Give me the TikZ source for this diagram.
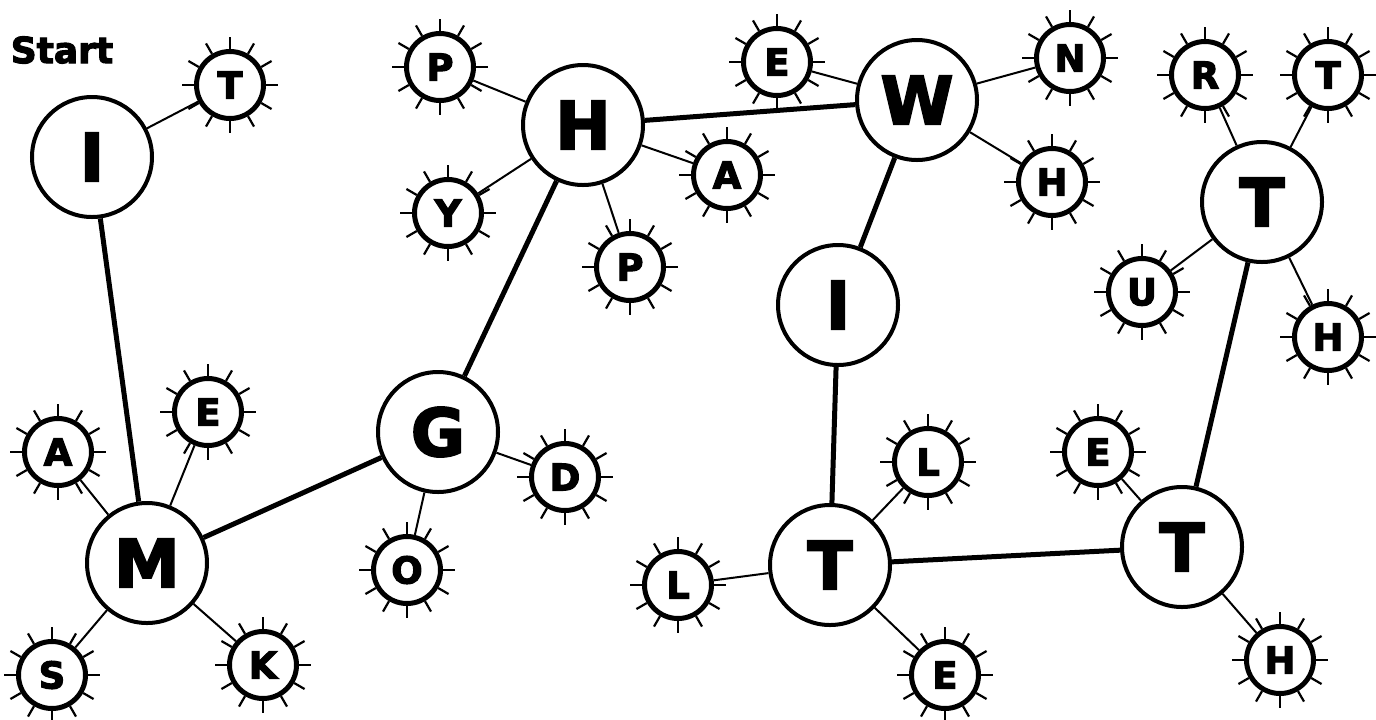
\documentclass[tikz,border=0pt]{standalone}
\usepackage{fontspec}
\setmainfont{DejaVu Sans}
\newfontfamily\heavyfont{DejaVu Sans Bold}[FakeBold=3]
\begin{document}
\begin{tikzpicture}
      [
        x = 0.5pt, y = -0.5pt,
        bignode/.style = {circle, draw, fill = white, line width = 2pt, minimum size = 60pt, inner sep = 0pt, font = \fontsize{33}{33}\heavyfont},
        spikenode/.style = {circle, draw, fill = white, line width = 2.5pt, minimum size = 33.5pt, inner sep = 0pt, font = \fontsize{18.5}{18.5}\heavyfont},
        thickedge/.style = {line width = 2.5pt},
        thinedge/.style = {line width = 1pt},
      ]
      \useasboundingbox (0,0) rectangle (1376,719);

      \node[font = \fontsize{18}{18}\heavyfont] (start) at (62,50) {Start};

      % big letters
      \node[bignode] (i1) at (92,157) {I};
      \node[bignode] (m) at (147,563) {M};
      \node[bignode] (g) at (438,432) {G};
      \node[bignode] (h) at (583,125) {H};
      \node[bignode] (w) at (917,100) {W};
      \node[bignode] (i2) at (838,305) {I};
      \node[bignode] (t1) at (830,565) {T};
      \node[bignode] (t2) at (1182,547) {T};
      \node[bignode] (t3) at (1262,202) {T};

      % small letters
      \node[spikenode] (s1) at (230,85) {T};
      \node[spikenode] (s2) at (58,452) {A};
      \node[spikenode] (s3) at (208,412) {E};
      \node[spikenode] (s4) at (52,675) {S};
      \node[spikenode] (s5) at (263,665) {K};
      \node[spikenode] (s6) at (565,477) {D};
      \node[spikenode] (s7) at (407,570) {O};
      \node[spikenode] (s8) at (440,67) {P};
      \node[spikenode] (s9) at (448,213) {Y};
      \node[spikenode] (s10) at (630,267) {P};
      \node[spikenode] (s11) at (727,175) {A};
      \node[spikenode] (s12) at (777,62) {E};
      \node[spikenode] (s13) at (1070,58) {N};
      \node[spikenode] (s14) at (1052,182) {H};
      \node[spikenode] (s15) at (928,462) {L};
      \node[spikenode] (s16) at (678,585) {L};
      \node[spikenode] (s17) at (945,675) {E};
      \node[spikenode] (s18) at (1098,452) {E};
      \node[spikenode] (s19) at (1280,660) {H};
      \node[spikenode] (s20) at (1205,75) {R};
      \node[spikenode] (s21) at (1328,75) {T};
      \node[spikenode] (s22) at (1142,292) {U};
      \node[spikenode] (s23) at (1328,337) {H};

      \foreach \n in {s1,s2,s3,s4,s5,s6,s7,s8,s9,s10,s11,s12,s13,s14,s15,s16,s17,s18,s19,s20,s21,s22,s23}
        \foreach \a in {0,30,...,330}
          \draw[line width = 1.1pt] (\n.\a) -- ++(\a:6pt);

      \draw[thickedge] (i1) -- (m);
      \draw[thickedge] (m) -- (g);
      \draw[thickedge] (g) -- (h);
      \draw[thickedge] (h) -- (w);
      \draw[thickedge] (w) -- (i2);
      \draw[thickedge] (i2) -- (t1);
      \draw[thickedge] (t1) -- (t2);
      \draw[thickedge] (t2) -- (t3);

      \foreach \a/\b in {i1/s1, m/s2, m/s3, m/s4, m/s5, g/s6, g/s7, h/s8, h/s9, h/s10, h/s11, w/s12, w/s13, w/s14, t1/s15, t1/s16, t1/s17, t2/s18, t2/s19, t3/s20, t3/s21, t3/s22, t3/s23}
        \draw[thinedge] (\a) -- (\b);

    \end{tikzpicture}
\end{document}
